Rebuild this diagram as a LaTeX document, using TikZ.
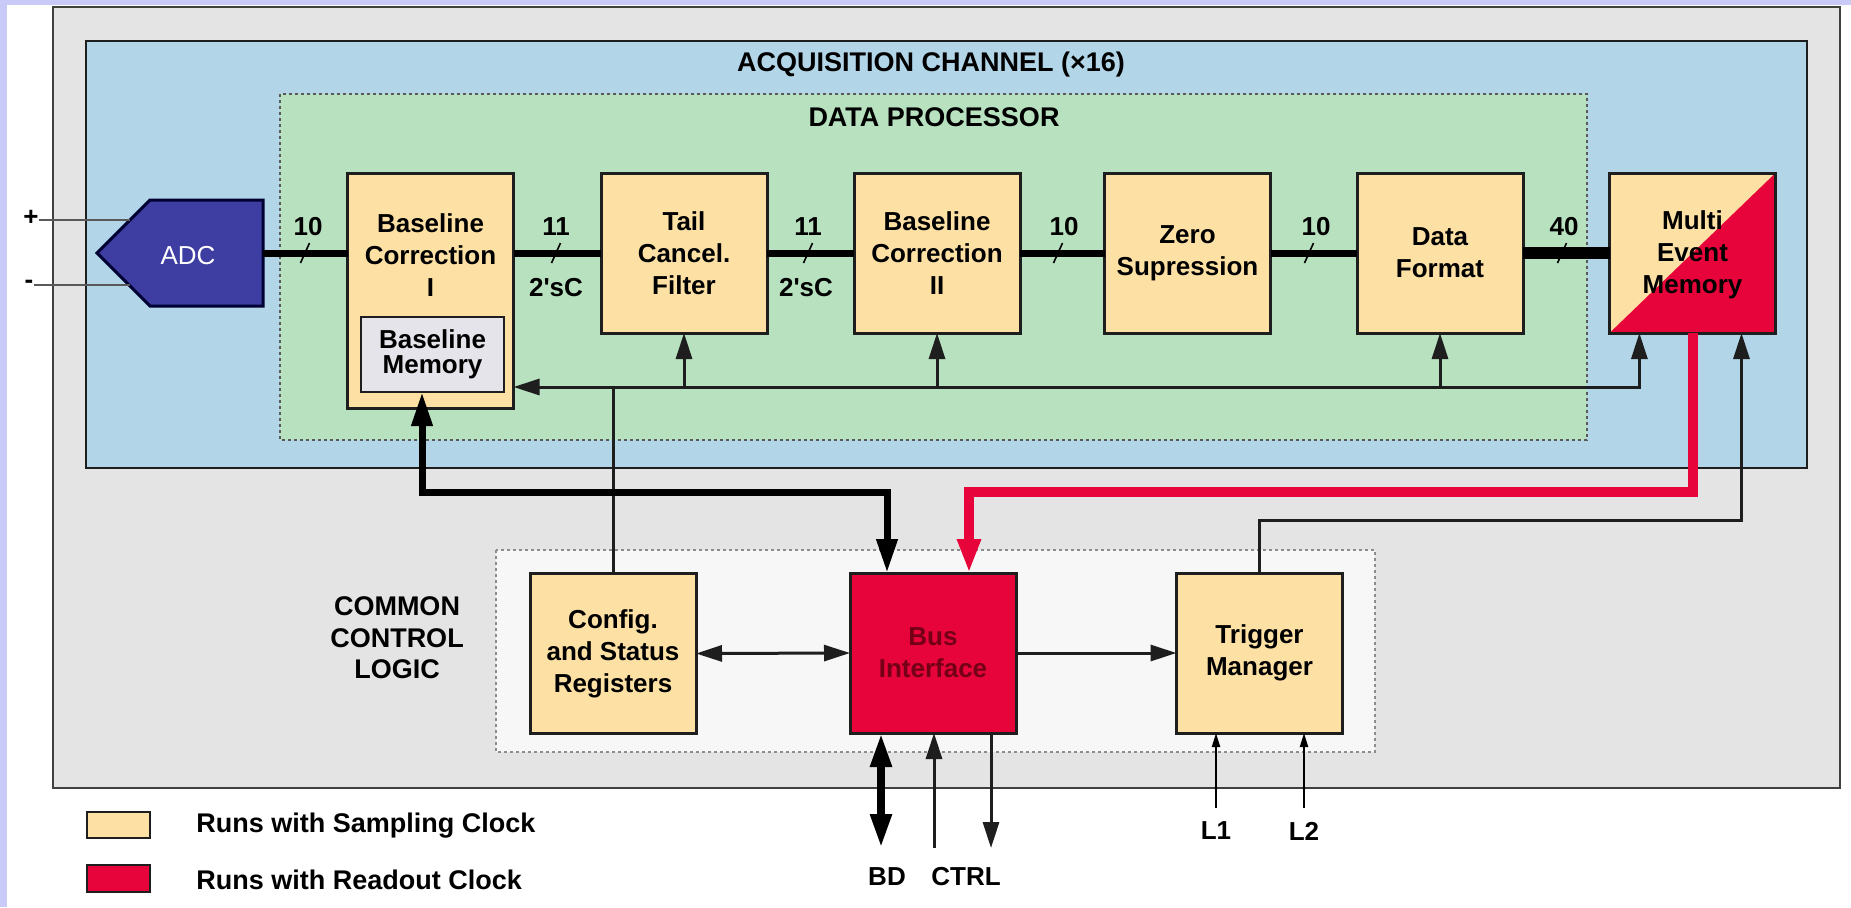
\documentclass[tikz,border=0pt]{standalone}
\usepackage{fontspec}
\setmainfont{Liberation Sans}
\usetikzlibrary{arrows.meta,calc}
\definecolor{lav}{RGB}{202,202,248}
\definecolor{grayfill}{RGB}{228,228,228}
\definecolor{bluefill}{RGB}{178,213,232}
\definecolor{greenfill}{RGB}{183,225,191}
\definecolor{yel}{RGB}{252,224,164}
\definecolor{redc}{RGB}{230,4,58}
\definecolor{bmfill}{RGB}{228,228,234}
\definecolor{adcc}{RGB}{62,62,162}
\definecolor{edge}{RGB}{30,30,30}
\definecolor{bustext}{RGB}{115,0,22}
\newcommand{\bxfont}{\fontsize{13}{16}\selectfont\bfseries}
\newcommand{\ttlfont}{\fontsize{13.5}{15.75}\selectfont\bfseries}
\begin{document}
\begin{tikzpicture}[x=0.5pt,y=-0.5pt,
  ctip/.tip={Triangle[length=13pt,width=8pt]},
  btip/.tip={Triangle[length=17pt,width=10pt]},
  rtip/.tip={Triangle[length=17pt,width=11pt]},
  stip/.tip={Triangle[length=7pt,width=4pt]},
  blk/.style={draw=edge, line width=1.5pt, fill=yel, inner sep=0, outer sep=0, align=center, font=\bxfont, minimum width=83pt, minimum height=80pt},
  lbl/.style={inner sep=0, font=\bxfont},
  ttl/.style={inner sep=0, font=\ttlfont, align=center},
  bus/.style={line width=3.5pt, draw=black},
  wbus/.style={line width=6pt, draw=black},
  ctl/.style={line width=1.5pt, draw=edge},
  thk/.style={line width=3.5pt, draw=black},
  redl/.style={line width=5pt, draw=redc},
  slash/.style={line width=0.8pt, draw=black},
  inl/.style={line width=1pt, draw=black!65}]
\useasboundingbox (0,0) rectangle (1851,907);
\fill[lav] (0,0) rectangle (1851,907);
\fill[white] (7,5) rectangle (1851,907);
% containers
\draw[draw=black!75, line width=1.2pt, fill=grayfill] (53,7) rectangle (1840,788);
\draw[draw=edge, line width=1.2pt, fill=bluefill] (86,41) rectangle (1807,468);
\draw[draw=black!65, line width=1pt, dash pattern=on 1.5pt off 1.5pt, fill=greenfill] (280,94) rectangle (1587,440);
\draw[draw=black!45, line width=1pt, dash pattern=on 1.5pt off 1.5pt, fill=white!97!black] (496,550) rectangle (1375,752);
% titles
\node[ttl] (acq) at (931,65) {ACQUISITION CHANNEL (×16)};
\node[ttl] (dp) at (934,117) {DATA PROCESSOR};
\node[ttl] (ccl) at (397,638) {COMMON\\CONTROL\\LOGIC};
% ADC
\node[minimum width=83pt, minimum height=53pt, inner sep=0, outer sep=0] (adc) at (180,253) {};
\filldraw[fill=adcc, draw=black!80!blue, line width=1.5pt] (adc.west) -- ($(adc.north west)+(53,0)$) -- (adc.north east) -- (adc.south east) -- ($(adc.south west)+(53,0)$) -- cycle;
\node[inner sep=0, font=\fontsize{13}{15}\selectfont, text=white] (adclbl) at (188,256) {ADC};
\node[lbl] (plus) at (31,218) {+};
\node[lbl] (minus) at (29,284) {-};
\coordinate (adcp) at (130,220);
\coordinate (adcm) at (130,285);
\draw[inl] (plus.east |- adcp) -- (adcp);
\draw[inl] (minus.east |- adcm) -- (adcm);
% processing blocks
\node[blk, minimum height=117.5pt] (bc1) at (430.5,290.5) {};
\node[lbl, align=center] (bc1t) at (430.5,255) {Baseline\\Correction\\I};
\node[blk, fill=bmfill, line width=1.2pt, minimum width=71.5pt, minimum height=37.5pt, font=\fontsize{13}{12.5}\selectfont\bfseries] (bm) at (432.5,354.5) {Baseline\\Memory};
\node[blk] (tail) at (684,253) {Tail\\Cancel.\\Filter};
\node[blk] (bc2) at (937,253) {Baseline\\Correction\\II};
\node[blk] (zero) at (1187.5,253) {Zero\\Supression};
\node[blk] (df) at (1440,253) {Data\\Format};
\node[blk] (mem) at (1692.5,253) {};
\fill[redc] (mem.south west) -- (mem.north east) -- (mem.south east) -- cycle;
\draw[draw=edge, line width=1.5pt] (mem.south west) rectangle (mem.north east);
\node[lbl, align=center] (memt) at (1692.5,255) {Multi\\Event\\Memory};
% common control blocks
\node[blk] (cfg) at (613,653.5) {Config.\\and Status\\Registers};
\node[blk, fill=redc, text=bustext] (bif) at (933,653) {Bus\\Interface};
\node[blk] (trg) at (1259.5,653) {Trigger\\Manager};
% data path
\draw[bus] (adc.east) -- (bc1.west |- adc.east);
\draw[bus] (bc1.east |- tail.west) -- (tail.west);
\draw[bus] (tail.east) -- (bc2.west);
\draw[bus] (bc2.east) -- (zero.west);
\draw[bus] (zero.east) -- (df.west);
\draw[wbus] (df.east) -- (mem.west);
% width labels
\node[lbl] (w1) at (308,227) {10};
\node[lbl] (w2) at (556,227) {11};
\node[lbl] (w2c) at (556,288) {2\textquotesingle sC};
\node[lbl] (w3) at (808,227) {11};
\node[lbl] (w3c) at (806,288) {2\textquotesingle sC};
\node[lbl] (w4) at (1064,227) {10};
\node[lbl] (w5) at (1316,227) {10};
\node[lbl] (w6) at (1564,227) {40};
\foreach \sx in {305,556,808,1058,1309,1562}{
  \draw[slash] (\sx-4.5,263) -- (\sx+4.5,243);
}
% control bus
\coordinate (cb) at (0,387);
\coordinate (memL) at ($(mem.south west)!0.18!(mem.south east)$);
\coordinate (memR) at ($(mem.south west)!0.795!(mem.south east)$);
\draw[ctl,-ctip] (cfg.north) -- (cfg.north |- cb) -- (bc1.east |- cb);
\draw[ctl,-ctip] (cfg.north |- cb) -| (memL);
\draw[ctl,-ctip] (tail.south |- cb) -- (tail.south);
\draw[ctl,-ctip] (bc2.south |- cb) -- (bc2.south);
\draw[ctl,-ctip] (df.south |- cb) -- (df.south);
% readout buses
\coordinate (yb) at (0,492);
\coordinate (yt) at (0,520);
\coordinate (bmx) at ($(bm.south)+(-10.5,0)$);
\coordinate (bifL) at ($(bif.north)+(-46,0)$);
\coordinate (bifR) at ($(bif.north)+(36,0)$);
\draw[thk,btip-btip] (bmx) -- (bmx |- yb) -| (bifL);
\draw[redl,-rtip] (mem.south) -- (mem.south |- yb) -| (bifR);
\draw[ctl,-ctip] (trg.north) -- (trg.north |- yt) -| (memR);
% common control links
\draw[ctl,ctip-ctip] (cfg.east) -- (bif.west);
\draw[ctl,-ctip] (bif.east) -- (trg.west);
% external I/O
\coordinate (bdE) at (881,848);
\coordinate (ctE) at (934,848);
\coordinate (dnE) at (991,848);
\draw[line width=4pt,btip-btip] (bdE |- bif.south) -- (bdE);
\draw[ctl,-ctip] (ctE) -- (ctE |- bif.south);
\draw[ctl,-ctip] (dnE |- bif.south) -- (dnE);
\node[lbl] (bdl) at (887,877) {BD};
\node[lbl] (ctrll) at (966,877) {CTRL};
\coordinate (l1s) at (1216,808);
\coordinate (l2s) at (1304,808);
\draw[line width=1pt,-stip] (l1s) -- (l1s |- trg.south);
\draw[line width=1pt,-stip] (l2s) -- (l2s |- trg.south);
\node[lbl] (l1) at (1216,831) {L1};
\node[lbl] (l2) at (1304,831) {L2};
% legend
\node[draw=edge, line width=1.2pt, fill=yel, minimum width=31.5pt, minimum height=13pt, inner sep=0] (legY) at (118.5,825) {};
\node[inner sep=0, font=\ttlfont, anchor=west] (legYt) at (196,826) {Runs with Sampling Clock};
\node[draw=edge, line width=1.2pt, fill=redc, minimum width=31.5pt, minimum height=13.5pt, inner sep=0] (legR) at (118.5,878.5) {};
\node[inner sep=0, font=\ttlfont, anchor=west] (legRt) at (196,880) {Runs with Readout Clock};
\end{tikzpicture}
\end{document}
